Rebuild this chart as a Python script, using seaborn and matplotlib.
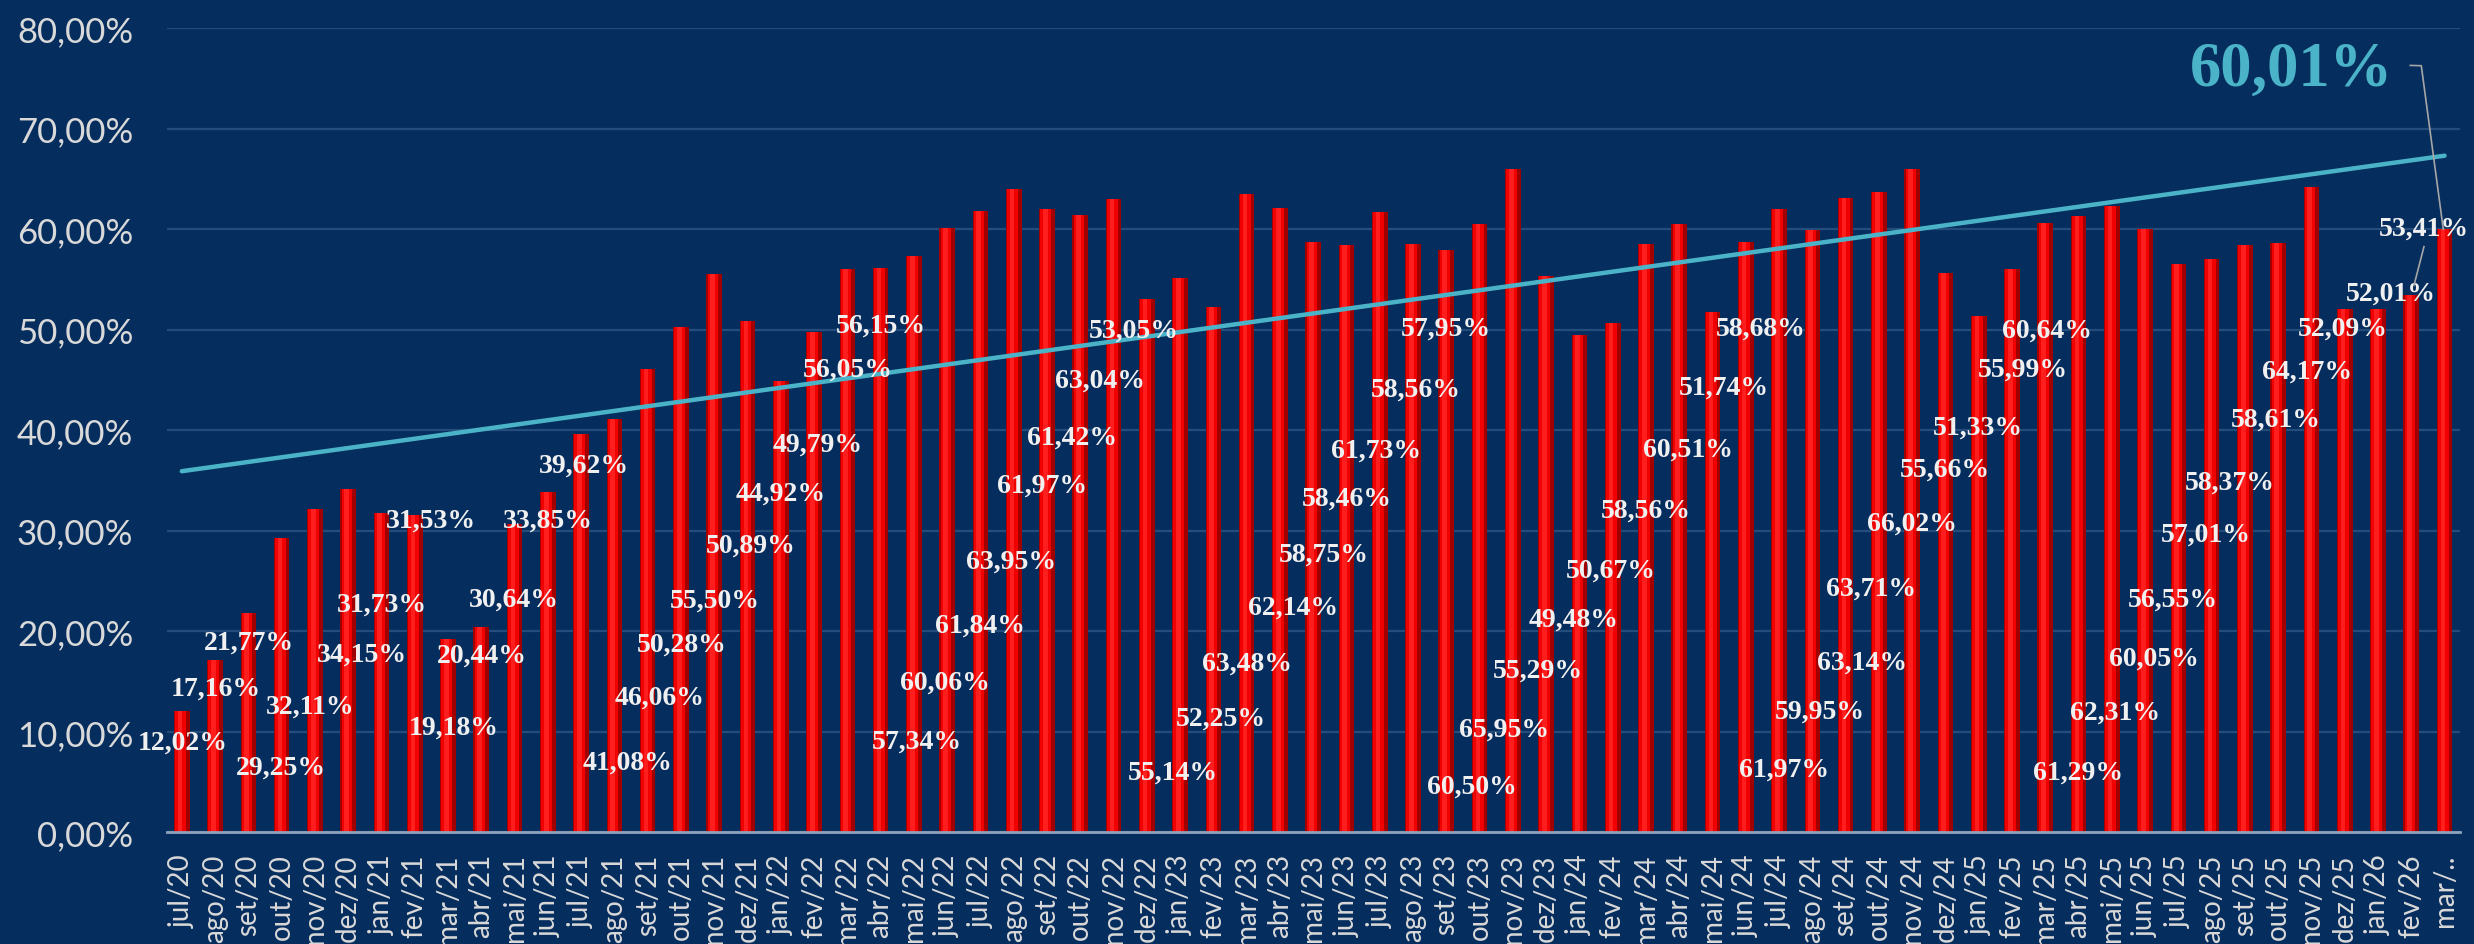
import numpy as np
import pandas as pd
import matplotlib
matplotlib.use('Agg')
import matplotlib.pyplot as plt
import seaborn as sns

# Meses (eixo x) e valores das barras (%)
meses = ['jul/20', 'ago/20', 'set/20', 'out/20', 'nov/20', 'dez/20',
         'jan/21', 'fev/21', 'mar/21', 'abr/21', 'mai/21', 'jun/21',
         'jul/21', 'ago/21', 'set/21', 'out/21', 'nov/21', 'dez/21',
         'jan/22', 'fev/22', 'mar/22', 'abr/22', 'mai/22', 'jun/22',
         'jul/22', 'ago/22', 'set/22', 'out/22', 'nov/22', 'dez/22',
         'jan/23', 'fev/23', 'mar/23', 'abr/23', 'mai/23', 'jun/23',
         'jul/23', 'ago/23', 'set/23', 'out/23', 'nov/23', 'dez/23',
         'jan/24', 'fev/24', 'mar/24', 'abr/24', 'mai/24', 'jun/24',
         'jul/24', 'ago/24', 'set/24', 'out/24', 'nov/24', 'dez/24',
         'jan/25', 'fev/25', 'mar/25', 'abr/25', 'mai/25', 'jun/25',
         'jul/25', 'ago/25', 'set/25', 'out/25', 'nov/25', 'dez/25',
         'jan/26', 'fev/26', 'mar/..']

valores = [12.02, 17.16, 21.77, 29.25, 32.11, 34.15,
           31.73, 31.53, 19.18, 20.44, 30.64, 33.85,
           39.62, 41.08, 46.06, 50.28, 55.50, 50.89,
           44.92, 49.79, 56.05, 56.15, 57.34, 60.06,
           61.84, 63.95, 61.97, 61.42, 63.04, 53.05,
           55.14, 52.25, 63.48, 62.14, 58.75, 58.46,
           61.73, 58.56, 57.95, 60.50, 65.95, 55.29,
           49.48, 50.67, 58.56, 60.51, 51.74, 58.68,
           61.97, 59.95, 63.14, 63.71, 66.02, 55.66,
           51.33, 55.99, 60.64, 61.29, 62.31, 60.05,
           56.55, 57.01, 58.37, 58.61, 64.17, 52.09,
           52.01, 53.41, 60.01]

# Posicoes dos rotulos (o grafico original tem os rotulos espalhados)
rotulo_x = [0.03, 1.02, 2.01, 2.99, 3.86, 5.4, 6.0, 7.48, 8.17, 9.01, 9.99, 11.01,
            12.09, 13.4, 14.36, 15.03, 16.02, 17.09, 18.0, 19.1, 20.0, 21.02, 22.09, 22.92,
            24.0, 24.91, 25.85, 26.75, 27.59, 28.6, 29.77, 31.24, 32.02, 33.39, 34.33, 35.01,
            35.88, 37.09, 38.0, 38.77, 39.75, 40.75, 41.84, 42.93, 44.0, 45.25, 46.35, 47.46,
            48.16, 49.23, 50.5, 50.77, 51.98, 52.99, 53.97, 55.33, 56.04, 56.98, 58.11, 59.26,
            59.84, 60.83, 61.55, 62.92, 63.88, 64.94, 66.37, 67.37]
rotulo_y = [8.96, 14.33, 18.9, 6.47, 12.54, 17.74, 22.7, 31.0, 10.45, 17.57, 23.2, 31.0,
            36.48, 6.96, 13.43, 18.74, 23.05, 28.52, 33.73, 38.64, 46.1, 50.48, 9.11, 14.92,
            20.56, 26.96, 34.49, 39.3, 44.94, 49.98, 6.03, 11.34, 16.81, 22.39, 27.69, 33.23,
            37.97, 44.04, 50.15, 4.54, 10.28, 16.08, 21.15, 26.03, 32.0, 38.14, 44.28, 50.15,
            6.3, 12.0, 16.92, 24.28, 30.78, 36.08, 40.3, 46.1, 49.91, 6.03, 11.94, 17.31,
            23.14, 29.68, 34.83, 41.06, 45.83, 50.15, 53.66, 60.1]

def fmt_pct(v):
    return f'{v:.2f}'.replace('.', ',') + '%'

fundo = '#052D5E'
cor_tend = '#4BB3C8'
cor_texto = '#D9D9D9'

df = pd.DataFrame({'mes': meses, 'valor': valores})
n = len(df)

fig = plt.figure(figsize=(24.74, 9.45), dpi=100, facecolor=fundo)
ax = fig.add_axes([0.0673, 0.1182, 0.927, 0.8511])
ax.set_facecolor(fundo)

# Grade horizontal
ax.set_ylim(0, 80)
ax.set_yticks(np.arange(0, 81, 10))
ax.yaxis.grid(True, color='#244D7B', lw=1.6)
ax.set_axisbelow(True)

# Barras (base escura + brilho central para dar efeito 3D)
sns.barplot(data=df, x='mes', y='valor', color='#A00000', width=0.47,
            saturation=1, ax=ax, zorder=2)
pos = np.arange(n)
ax.bar(pos - 0.04, df['valor'], width=0.32, color='#F00000', zorder=3)
ax.bar(pos - 0.05, df['valor'], width=0.14, color='#FF1E1E', zorder=3)

# Linha de tendencia linear
coef = np.polyfit(pos, df['valor'], 1)
ax.plot(pos, np.polyval(coef, pos), color=cor_tend, lw=3.2, zorder=4,
        solid_capstyle='round')

ax.set_xlim(-0.46, n - 1 + 0.46)

# Rotulos de dados
for i in range(n - 1):
    ax.text(rotulo_x[i], rotulo_y[i], fmt_pct(valores[i]), ha='center', va='center',
            fontsize=20, fontweight='bold', family='Liberation Serif',
            color='#F0F0F0', zorder=5)

# Destaque do ultimo valor
ax.text(63.39, 75.8, fmt_pct(valores[-1]), ha='center', va='center', fontsize=45,
        fontweight='bold', family='Liberation Serif', color=cor_tend, zorder=5,
        clip_on=False)
ax.plot([66.97, 67.3, 67.96], [76.28, 76.25, 60.0], color='#A6A6A6', lw=1.2, zorder=5)
ax.plot([67.38, 67.08], [58.25, 54.4], color='#A6A6A6', lw=1.2, zorder=5)

# Eixos
ax.set_yticklabels([fmt_pct(v) for v in np.arange(0, 81, 10)])
ax.set_xticks(pos)
ax.set_xticklabels(meses, rotation=90, va='top', ha='center')
ax.tick_params(axis='y', length=0, pad=24, labelsize=25, labelcolor=cor_texto)
ax.tick_params(axis='x', length=0, pad=15, labelsize=20, labelcolor=cor_texto)
for lab in ax.get_xticklabels() + ax.get_yticklabels():
    lab.set_family('Lato')
ax.set_xlabel('')
ax.set_ylabel('')
for lado in ['top', 'right', 'left']:
    ax.spines[lado].set_visible(False)
ax.spines['bottom'].set_color('#8EA2BC')
ax.spines['bottom'].set_linewidth(2)
ax.spines['bottom'].set_zorder(6)

fig.savefig('out.png', dpi=100, facecolor=fundo)
